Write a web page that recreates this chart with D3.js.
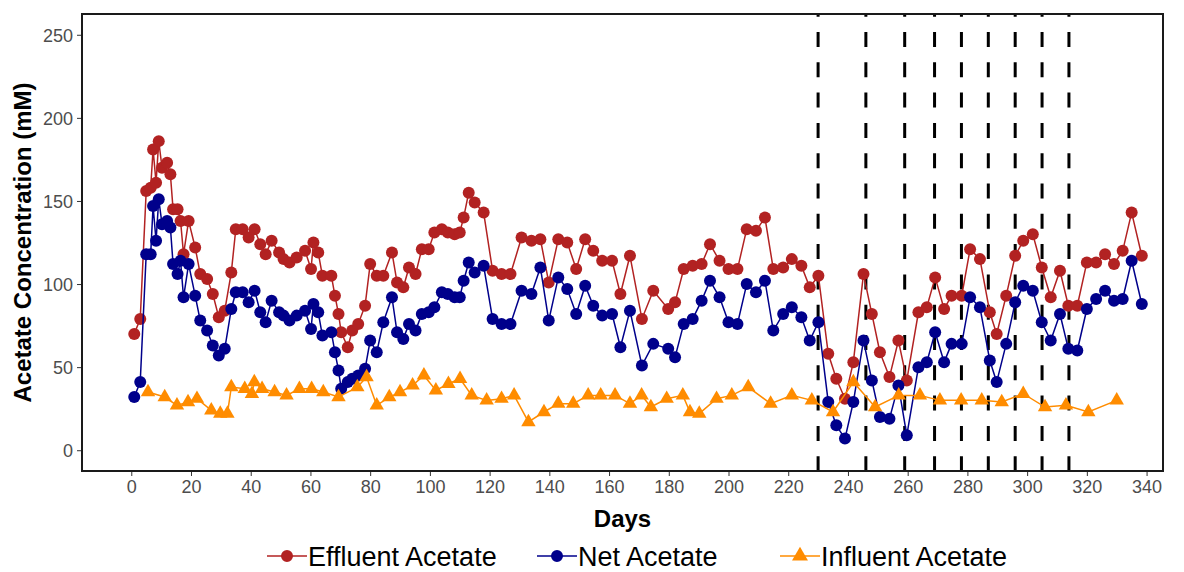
<!DOCTYPE html>
<html>
<head>
<meta charset="utf-8">
<script src="https://cdn.jsdelivr.net/npm/d3@7"></script>
<style>
	body { margin: 0; background: #fff; }
	text { font-family: "Liberation Sans", Arial, sans-serif; }
	.axis text { fill: #4d4d4d; font-size: 18px; }
	.axis line { stroke: #333; }
	.axis path { display: none; }
</style>
</head>
<body>
<div id="chart-area"></div>
<script>

// sampling days shared by effluent and net acetate
let days = [1, 3, 5, 6.5, 7.3, 8.3, 9.2, 10.3, 12, 13.1, 14, 15.5, 16.5, 17.5, 19.2, 21.4, 23.1, 25.4, 27.3, 29.3,
	31.3, 33.5, 35, 37.3, 39.3, 41.3, 43.2, 45, 47, 49.5, 51, 53, 55.4, 58.2, 60.2, 61, 62.6, 64, 67, 68.2,
	69.4, 70.3, 72.5, 74, 76, 78.3, 80, 82.2, 84.4, 87.3, 89, 91.1, 93, 95.2, 97.3, 99.6, 101.5, 104, 106, 108.3,
	110, 111.3, 113, 115, 118, 121, 124, 127, 130.7, 134, 137, 139.8, 143, 146, 149, 152, 154.7, 157.7, 161, 163.8,
	167, 171, 174.8, 179.8, 182.1, 185, 188, 191, 193.8, 197, 200, 203, 206.1, 209.2, 212.2, 215, 218.3, 221.2, 224.4, 227.2,
	230.1, 233.4, 236.1, 239, 241.8, 245.2, 248, 250.7, 253.9, 256.9, 259.7, 263.6, 266.4, 269.2, 272.2, 274.7, 278.1, 280.9, 284.2, 287.5,
	289.8, 293, 296, 298.7, 301.9, 304.9, 307.9, 311, 313.8, 316.8, 320, 323.1, 326.1, 329.1, 332, 335, 338.4];

let effluent = [70, 79, 156, 158, 181, 161, 186, 170, 173, 166, 145, 145, 138, 118, 138, 122, 106, 103, 94, 80,
	84, 107, 133, 133, 128, 133, 124, 118, 126, 119, 115, 113, 116, 120, 109, 125, 119, 105, 105, 93,
	82, 71, 62, 72, 76, 87, 112, 105, 105, 119, 101, 98, 110, 106, 121, 121, 131, 133, 131, 130,
	131, 140, 155, 149, 143, 108, 106, 106, 128, 126, 127, 101, 127, 125, 109, 127, 120, 114, 114, 94,
	117, 79, 96, 85, 89, 109, 111, 112, 124, 114, 109, 109, 133, 132, 140, 109, 110, 115, 111, 98,
	105, 58, 43, 31, 53, 106, 82, 59, 44, 66, 42, 83, 86, 104, 85, 93, 93, 121, 115, 83,
	70, 93, 117, 126, 130, 110, 92, 108, 87, 87, 113, 113, 118, 112, 120, 143, 117];

let net = [32, 41, 118, 118, 147, 126, 151, 136, 138, 134, 112, 106, 114, 92, 112, 93, 78, 72, 63, 57,
	61, 85, 95, 95, 89, 96, 83, 77, 90, 83, 81, 78, 81, 84, 73, 88, 83, 69, 71, 59,
	48, 37, 41, 43, 45, 49, 66, 59, 77, 92, 71, 67, 76, 72, 82, 83, 86, 95, 94, 92,
	92, 102, 113, 107, 111, 79, 76, 76, 96, 94, 110, 78, 104, 97, 82, 99, 87, 81, 82, 62,
	84, 51, 64, 61, 56, 76, 79, 90, 102, 92, 77, 76, 100, 95, 102, 72, 82, 86, 80, 66,
	77, 29, 15, 7, 29, 66, 42, 20, 19, 39, 9, 50, 53, 71, 53, 64, 64, 92, 86, 54,
	41, 64, 89, 99, 96, 77, 66, 82, 61, 60, 85, 91, 96, 90, 91, 114, 88];

// influent acetate was measured on its own schedule
let influentDays = [5.6, 11.2, 15.3, 19, 22, 26.8, 29.8, 32.2, 33.5, 38, 40.4, 41.2, 43.8, 48, 52, 56.3, 60.4, 64.3, 69.4, 75.7,
	78.8, 82.2, 86.4, 90, 94.2, 98, 102, 106.2, 110.1, 114, 119, 124, 128.2, 133, 138.2, 143, 148, 153, 157.2, 162,
	167, 170.9, 174, 179.3, 184.7, 187.1, 190.2, 196, 201.1, 206.6, 214.1, 221.2, 227.9, 235, 241.8, 249.1, 257, 264.1, 270.8, 277.9,
	284.8, 291.5, 298.7, 306, 313, 320.5, 330];

let influent = [35, 32, 27, 29, 31, 24, 22, 22, 38, 37, 34, 41, 37, 35, 33, 37, 37, 35, 32, 38,
	44, 27, 32, 35, 39, 45, 36, 40, 43, 33, 30, 31, 33, 17, 23, 28, 28, 33, 33, 33,
	28, 33, 26, 31, 33, 23, 22, 31, 33, 38, 28, 33, 30, 23, 41, 26, 33, 33, 30, 30,
	30, 29, 34, 26, 27, 23, 30];

// feeding changes (dashed reference lines)
let changeDays = [230, 246, 259, 269, 278, 287, 296, 305, 314];

let xTicks = d3.range(0, 341, 20);
let yTicks = [0, 50, 100, 150, 200, 250];

let seriesNames = ["Effluent Acetate", "Net Acetate", "Influent Acetate"];


class AcetateChart {

	constructor(parentElement) {
		this.parentElement = parentElement;
		this.colors = {"Effluent Acetate": "#b22222", "Net Acetate": "#00008b", "Influent Acetate": "#ff8c00"};

		this.series = [
			{name: seriesNames[0], values: days.map((d, i) => ({day: d, value: effluent[i]})), shape: "circle"},
			{name: seriesNames[1], values: days.map((d, i) => ({day: d, value: net[i]})), shape: "circle"},
			{name: seriesNames[2], values: influentDays.map((d, i) => ({day: d, value: influent[i]})), shape: "triangle"}
		];
	}

	initVis() {
		let vis = this;

		vis.margin = {top: 14, right: 21, bottom: 101, left: 82};
		vis.width = 1184 - vis.margin.left - vis.margin.right;
		vis.height = 572 - vis.margin.top - vis.margin.bottom;

		vis.svg = d3.select("#" + vis.parentElement).append("svg")
			.attr("width", 1184)
			.attr("height", 572)
			.append("g")
			.attr("transform", "translate(" + vis.margin.left + "," + vis.margin.top + ")");

		// Scales and axes (ggplot style 5% padding)
		vis.x = d3.scaleLinear()
			.domain([-16.5, 345.5])
			.range([0, vis.width]);

		vis.y = d3.scaleLinear()
			.domain([-12.5, 262.5])
			.range([vis.height, 0]);

		vis.xAxis = d3.axisBottom(vis.x)
			.tickValues(xTicks)
			.tickSize(5)
			.tickPadding(4);

		vis.yAxis = d3.axisLeft(vis.y)
			.tickValues(yTicks)
			.tickSize(5)
			.tickPadding(4);

		vis.svg.append("g")
			.attr("class", "x-axis axis")
			.attr("transform", "translate(0," + vis.height + ")")
			.call(vis.xAxis);

		vis.svg.append("g")
			.attr("class", "y-axis axis")
			.call(vis.yAxis);

		vis.svg.selectAll(".y-axis text").attr("dy", "0.36em");

		// clip for the dashed lines
		vis.svg.append("defs").append("clipPath")
			.attr("id", "clip")
			.append("rect")
			.attr("width", vis.width)
			.attr("height", vis.height);

		vis.line = d3.line()
			.x(d => vis.x(d.day))
			.y(d => vis.y(d.value));

		// Axis titles
		vis.svg.append("text")
			.attr("class", "axis-title")
			.attr("x", vis.width / 2)
			.attr("y", vis.height + 56)
			.attr("text-anchor", "middle")
			.style("font-size", "24px")
			.style("font-weight", "bold")
			.text("Days");

		vis.svg.append("text")
			.attr("class", "axis-title")
			.attr("transform", "translate(" + (-51) + "," + (vis.height / 2) + ") rotate(-90)")
			.attr("text-anchor", "middle")
			.style("font-size", "24px")
			.style("font-weight", "bold")
			.text("Acetate Concentration (mM)");

		vis.updateVis();
	}

	updateVis() {
		let vis = this;

		// dashed reference lines
		vis.svg.append("g")
			.attr("clip-path", "url(#clip)")
			.selectAll(".referenceLine")
			.data(changeDays)
			.enter().append("line")
			.attr("class", "referenceLine")
			.attr("x1", d => vis.x(d))
			.attr("x2", d => vis.x(d))
			.attr("y1", 0)
			.attr("y2", vis.height)
			.attr("stroke", "black")
			.attr("stroke-width", 3)
			.style("stroke-dasharray", "15,15.3")
			.style("stroke-dashoffset", 12.3);

		let groups = vis.svg.selectAll(".series")
			.data(vis.series)
			.enter().append("g")
			.attr("class", "series");

		groups.append("path")
			.attr("d", d => vis.line(d.values))
			.attr("fill", "none")
			.attr("stroke", d => vis.colors[d.name])
			.attr("stroke-width", 1.5);

		groups.each(function (s) {
			let g = d3.select(this);
			if (s.shape == "circle") {
				g.selectAll("circle")
					.data(s.values)
					.enter().append("circle")
					.attr("cx", d => vis.x(d.day))
					.attr("cy", d => vis.y(d.value))
					.attr("r", 6)
					.attr("fill", vis.colors[s.name]);
			} else {
				g.selectAll(".tri")
					.data(s.values)
					.enter().append("path")
					.attr("class", "tri")
					.attr("d", d3.symbol(d3.symbolTriangle).size(90))
					.attr("transform", d => "translate(" + vis.x(d.day) + "," + vis.y(d.value) + ")")
					.attr("fill", vis.colors[s.name]);
			}
		});

		// panel border
		vis.svg.append("rect")
			.attr("width", vis.width)
			.attr("height", vis.height)
			.attr("fill", "none")
			.attr("stroke", "#1a1a1a")
			.attr("stroke-width", 2);

		// legend below the plot
		let legendX = [267, 537, 780];
		let legend = vis.svg.selectAll(".legend")
			.data(vis.series)
			.enter().append("g")
			.attr("class", "legend")
			.attr("transform", (d, i) => "translate(" + (legendX[i] - vis.margin.left) + "," + (556 - vis.margin.top) + ")");

		legend.append("line")
			.attr("x1", 0)
			.attr("x2", 40)
			.attr("stroke", d => vis.colors[d.name])
			.attr("stroke-width", 1.5);

		legend.append("path")
			.attr("d", d => d.shape == "circle" ? d3.symbol(d3.symbolCircle).size(113)() : d3.symbol(d3.symbolTriangle).size(110)())
			.attr("transform", "translate(20,0)")
			.attr("fill", d => vis.colors[d.name]);

		legend.append("text")
			.attr("x", 41)
			.attr("dy", "0.36em")
			.style("font-size", "27px")
			.text(d => d.name);
	}
}

let chart = new AcetateChart("chart-area");
chart.initVis();

</script>
</body>
</html>
